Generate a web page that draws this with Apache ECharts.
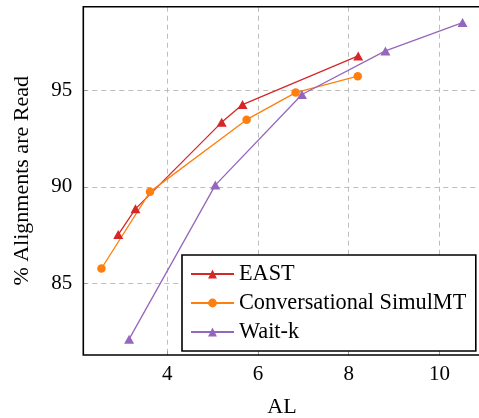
<!DOCTYPE html>
<html>
<head>
<meta charset="utf-8">
<script src="https://cdn.jsdelivr.net/npm/echarts@6/dist/echarts.min.js"></script>
<style>
  html, body { margin: 0; padding: 0; background: #fff; }
  #chart { width: 479px; height: 418px; }
</style>
</head>
<body>
<div id="chart"></div>
<script>
// Latency (AL) vs. share of alignments already read, per method
const eastAL   = [2.92, 3.30, 5.20, 5.66, 8.21];
const eastRead = [87.53, 88.86, 93.34, 94.26, 96.78];

const convAL   = [2.55, 3.62, 5.75, 6.83, 8.20];
const convRead = [85.77, 89.74, 93.48, 94.88, 95.73];

const waitAL   = [3.16, 5.06, 6.97, 8.81, 10.51];
const waitRead = [82.11, 90.09, 94.78, 97.04, 98.51];

const seriesNames = ['EAST', 'Conversational SimulMT', 'Wait-k'];
const xTicks = [4, 6, 8, 10];
const yTicks = [85, 90, 95];

const SERIF = 'Liberation Serif';
const pair = (xs, ys) => xs.map((x, i) => [x, ys[i]]);

const gridLine = { show: true, lineStyle: { color: '#bdbdbd', width: 1, type: [5, 4] } };

function lineSeries(name, data, color, symbol, size) {
  return {
    name, type: 'line', data,
    symbol, symbolSize: size,
    lineStyle: { color, width: 1.3 },
    itemStyle: { color },
    animation: false
  };
}

function valueAxis(min, max, ticks, name, nameGap, labelMargin) {
  return {
    type: 'value', min, max,
    name, nameLocation: 'middle', nameGap, nameMoveOverlap: false,
    nameTextStyle: { fontFamily: SERIF, fontSize: 22, color: '#000' },
    axisLine: { show: false },
    axisTick: { show: true, inside: true, length: 4, customValues: ticks, lineStyle: { color: '#999' } },
    axisLabel: { customValues: ticks, fontFamily: SERIF, fontSize: 21, color: '#000', margin: labelMargin },
    splitLine: gridLine
  };
}

const chart = echarts.init(document.getElementById('chart'), null, { renderer: 'canvas' });
chart.setOption({
  animation: false,
  textStyle: { fontFamily: SERIF },
  grid: {
    left: 83.3, top: 6.7, right: -1.7, bottom: 63,
    outerBoundsMode: 'none',
    show: true, borderColor: '#000', borderWidth: 1.6, backgroundColor: 'transparent', z: 3
  },
  xAxis: valueAxis(2.15, 10.91, xTicks, 'AL', 41, 9),
  yAxis: valueAxis(81.29, 99.33, yTicks, '% Alignments are Read', 50, 11),
  legend: {
    data: seriesNames,
    orient: 'vertical',
    left: 182, top: 255,
    padding: [8, 9.5, 8, 8],
    backgroundColor: '#fff',
    borderColor: '#000', borderWidth: 1.6, borderRadius: 0,
    itemWidth: 43, itemHeight: 11, itemGap: 7,
    textStyle: { fontFamily: SERIF, fontSize: 22.3, color: '#000', lineHeight: 22 }
  },
  series: [
    lineSeries(seriesNames[0], pair(eastAL, eastRead), '#d62728', 'triangle', [10, 9]),
    lineSeries(seriesNames[1], pair(convAL, convRead), '#ff7f0e', 'circle', 8.5),
    lineSeries(seriesNames[2], pair(waitAL, waitRead), '#9467bd', 'triangle', [10, 9])
  ]
});
</script>
</body>
</html>
